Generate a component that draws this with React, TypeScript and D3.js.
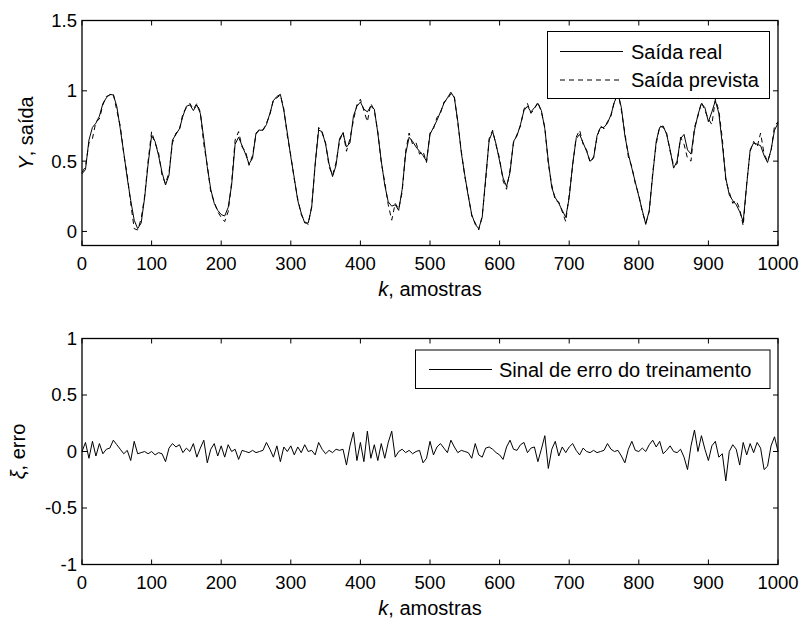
import React from "react";
import * as d3 from "d3";

// ---------- data ----------
const sampleStep = 5; // samples k = 0, 5, 10, ..., 1000

const realOutput = [
  0.41, 0.44, 0.65, 0.74, 0.77, 0.82, 0.91, 0.95, 0.975, 0.97,
  0.89, 0.73, 0.56, 0.38, 0.22, 0.08, 0.02, 0.06, 0.24, 0.48,
  0.68, 0.64, 0.54, 0.42, 0.33, 0.40, 0.65, 0.69, 0.73, 0.82,
  0.89, 0.90, 0.86, 0.90, 0.84, 0.66, 0.46, 0.30, 0.20, 0.15,
  0.12, 0.11, 0.17, 0.33, 0.62, 0.67, 0.61, 0.55, 0.48, 0.52,
  0.70, 0.72, 0.72, 0.76, 0.84, 0.93, 0.96, 0.975, 0.86, 0.70,
  0.53, 0.38, 0.22, 0.13, 0.06, 0.06, 0.17, 0.48, 0.72, 0.71,
  0.62, 0.48, 0.39, 0.47, 0.66, 0.70, 0.60, 0.63, 0.82, 0.89,
  0.92, 0.87, 0.85, 0.89, 0.87, 0.70, 0.50, 0.33, 0.21, 0.18,
  0.19, 0.15, 0.30, 0.55, 0.67, 0.64, 0.60, 0.57, 0.54, 0.50,
  0.69, 0.74, 0.79, 0.85, 0.91, 0.95, 0.99, 0.95, 0.78, 0.56,
  0.40, 0.25, 0.12, 0.05, 0.02, 0.10, 0.38, 0.65, 0.71, 0.62,
  0.50, 0.38, 0.32, 0.42, 0.64, 0.68, 0.76, 0.86, 0.89, 0.85,
  0.88, 0.91, 0.86, 0.73, 0.50, 0.31, 0.24, 0.20, 0.15, 0.10,
  0.24, 0.48, 0.66, 0.69, 0.63, 0.57, 0.50, 0.52, 0.68, 0.74,
  0.74, 0.77, 0.83, 0.92, 0.98, 0.88, 0.68, 0.55, 0.45, 0.35,
  0.25, 0.15, 0.05, 0.15, 0.40, 0.64, 0.74, 0.75, 0.69, 0.58,
  0.45, 0.50, 0.66, 0.69, 0.58, 0.55, 0.72, 0.83, 0.91, 0.88,
  0.78, 0.85, 0.93, 0.84, 0.62, 0.38, 0.26, 0.22, 0.19, 0.14,
  0.07, 0.33, 0.58, 0.63, 0.62, 0.61, 0.54, 0.49, 0.58, 0.72,
  0.77,
];

const predictedOutput = [
  0.42, 0.46, 0.63, 0.66, 0.78, 0.80, 0.90, 0.96, 0.97, 0.98,
  0.86, 0.75, 0.55, 0.40, 0.20, 0.02, 0.01, 0.09, 0.25, 0.50,
  0.71, 0.63, 0.56, 0.40, 0.34, 0.42, 0.63, 0.70, 0.72, 0.84,
  0.88, 0.91, 0.87, 0.91, 0.85, 0.62, 0.47, 0.28, 0.21, 0.14,
  0.10, 0.07, 0.14, 0.35, 0.65, 0.71, 0.60, 0.57, 0.47, 0.54,
  0.69, 0.73, 0.72, 0.77, 0.83, 0.94, 0.95, 0.97, 0.87, 0.68,
  0.54, 0.37, 0.23, 0.12, 0.07, 0.05, 0.18, 0.47, 0.74, 0.70,
  0.63, 0.46, 0.40, 0.49, 0.64, 0.71, 0.57, 0.66, 0.79, 0.90,
  0.94, 0.86, 0.78, 0.91, 0.86, 0.71, 0.49, 0.35, 0.19, 0.08,
  0.20, 0.16, 0.28, 0.57, 0.70, 0.62, 0.63, 0.55, 0.57, 0.49,
  0.70, 0.73, 0.81, 0.84, 0.92, 0.94, 0.98, 0.96, 0.77, 0.57,
  0.39, 0.26, 0.11, 0.06, 0.01, 0.11, 0.36, 0.66, 0.72, 0.61,
  0.52, 0.36, 0.30, 0.44, 0.63, 0.69, 0.75, 0.87, 0.91, 0.84,
  0.87, 0.92, 0.85, 0.74, 0.48, 0.33, 0.22, 0.21, 0.14, 0.07,
  0.26, 0.47, 0.67, 0.72, 0.62, 0.58, 0.49, 0.53, 0.67, 0.75,
  0.73, 0.78, 0.82, 0.93, 1.00, 0.86, 0.70, 0.53, 0.46, 0.34,
  0.26, 0.14, 0.06, 0.14, 0.42, 0.62, 0.75, 0.74, 0.70, 0.57,
  0.47, 0.48, 0.67, 0.62, 0.52, 0.50, 0.74, 0.82, 0.92, 0.86,
  0.80, 0.76, 0.94, 0.86, 0.66, 0.36, 0.28, 0.20, 0.22, 0.16,
  0.04, 0.34, 0.57, 0.64, 0.60, 0.70, 0.55, 0.50, 0.57, 0.75,
  0.78,
];

const trainingError = [
  0.00, 0.08, -0.06, 0.09, -0.04, 0.07, -0.02, 0.02, 0.03, 0.10,
  0.06, 0.02, -0.02, 0.01, -0.08, 0.09, -0.02, -0.01, 0.00, -0.02,
  0.00, -0.03, -0.01, -0.02, -0.09, 0.03, 0.07, 0.04, 0.06, -0.01,
  0.03, 0.00, 0.07, -0.05, 0.03, 0.10, -0.10, 0.02, 0.07, -0.04,
  0.05, -0.05, 0.06, 0.00, 0.02, -0.07, 0.01, 0.00, -0.01, 0.01,
  -0.01, 0.00, 0.01, 0.08, 0.02, -0.05, 0.05, -0.09, 0.04, 0.00,
  0.05, -0.03, 0.04, -0.01, 0.06, 0.00, 0.01, -0.03, 0.08, 0.02,
  -0.02, 0.01, -0.01, 0.02, 0.01, 0.02, -0.12, 0.05, 0.17, -0.08,
  0.08, -0.09, 0.18, -0.06, 0.06, -0.08, 0.07, -0.06, 0.08, 0.18,
  -0.05, 0.00, 0.02, -0.01, 0.01, -0.02, 0.00, 0.01, -0.10, -0.06,
  0.09, -0.03, 0.04, 0.07, 0.03, -0.01, 0.10, 0.04, -0.01, 0.01,
  0.00, -0.01, -0.06, 0.07, -0.03, -0.05, 0.03, 0.04, 0.02, -0.01,
  -0.03, -0.07, 0.04, 0.10, 0.02, 0.01, 0.06, 0.08, -0.01, 0.03,
  0.04, -0.09, 0.02, 0.14, -0.15, 0.02, 0.09, -0.04, 0.04, -0.01,
  0.04, 0.07, 0.01, -0.03, 0.03, 0.00, -0.01, 0.01, -0.01, 0.00,
  0.01, 0.07, 0.02, 0.00, 0.01, -0.04, -0.10, 0.02, 0.09, 0.01,
  0.00, 0.03, 0.00, 0.06, 0.10, 0.04, 0.09, -0.02, 0.01, 0.05,
  0.00, -0.01, 0.02, -0.05, -0.16, 0.05, 0.19, 0.00, 0.14, 0.02,
  -0.08, 0.05, 0.09, -0.05, -0.02, -0.26, 0.00, 0.06, 0.02, -0.12,
  0.08, -0.03, 0.07, -0.01, 0.08, 0.03, -0.16, -0.13, 0.05, 0.13,
  0.00,
];

const xTicks = [0, 100, 200, 300, 400, 500, 600, 700, 800, 900, 1000];
const yTicksTop = [0, 0.5, 1, 1.5];
const yTickLabelsTop = ["0", "0.5", "1", "1.5"];
const yTicksBottom = [-1, -0.5, 0, 0.5, 1];
const yTickLabelsBottom = ["-1", "-0.5", "0", "0.5", "1"];
const legendTop = ["Saída real", "Saída prevista"];
const legendBottom = ["Sinal de erro do treinamento"];

// ---------- layout ----------
const W = 803;
const H = 620;
const left = 82;
const right = 778;
const top1 = 20.5;
const bottom1 = 245.5;
const top2 = 338.5;
const bottom2 = 564.5;
const FONT = "'Liberation Sans', Arial, Helvetica, sans-serif";
const TICK = 5;

const x = d3.scaleLinear().domain([0, 1000]).range([left, right]);
const yTop = d3.scaleLinear().domain([-0.1, 1.5]).range([bottom1, top1]);
const yBot = d3.scaleLinear().domain([-1, 1]).range([bottom2, top2]);

function Axes({ y, top, bottom, yTicks, yLabels }: any) {
  return (
    <g>
      {xTicks.map((t) => (
        <g key={"x" + t}>
          <line x1={x(t)} x2={x(t)} y1={bottom} y2={bottom - TICK} stroke="#000" strokeWidth={1} />
          <line x1={x(t)} x2={x(t)} y1={top} y2={top + TICK} stroke="#000" strokeWidth={1} />
          <text
            x={x(t)}
            y={bottom + 24.5}
            textAnchor="middle"
            fontSize={18.5}
            fontFamily={FONT}
            fill="#000"
          >
            {t}
          </text>
        </g>
      ))}
      {yTicks.map((t: number, i: number) => (
        <g key={"y" + t}>
          <line x1={left} x2={left + TICK} y1={y(t)} y2={y(t)} stroke="#000" strokeWidth={1} />
          <line x1={right} x2={right - TICK} y1={y(t)} y2={y(t)} stroke="#000" strokeWidth={1} />
          <text
            x={77}
            y={y(t)}
            dy="0.35em"
            textAnchor="end"
            fontSize={18.5}
            fontFamily={FONT}
            fill="#000"
          >
            {yLabels[i]}
          </text>
        </g>
      ))}
      <rect
        x={left}
        y={top}
        width={right - left}
        height={bottom - top}
        fill="none"
        stroke="#000"
        strokeWidth={1.3}
      />
      <text
        x={(left + right) / 2}
        y={bottom + 50}
        textAnchor="middle"
        fontSize={20}
        fontFamily={FONT}
        fill="#000"
      >
        <tspan fontStyle="italic">k</tspan>, amostras
      </text>
    </g>
  );
}

export default function App() {
  const lineTop = d3
    .line<number>()
    .x((_, i) => x(i * sampleStep))
    .y((d) => yTop(d));
  const lineBot = d3
    .line<number>()
    .x((_, i) => x(i * sampleStep))
    .y((d) => yBot(d));

  return (
    <svg
      width={W}
      height={H}
      style={{ position: "absolute", left: 0, top: 0, background: "#fff" }}
    >
      <rect x={0} y={0} width={W} height={H} fill="#fff" />

      {/* Top panel */}
      <path d={lineTop(realOutput) || ""} fill="none" stroke="#000" strokeWidth={1} />
      <path
        d={lineTop(predictedOutput) || ""}
        fill="none"
        stroke="#000"
        strokeWidth={1}
        strokeDasharray="5,4"
      />
      <Axes y={yTop} top={top1} bottom={bottom1} yTicks={yTicksTop} yLabels={yTickLabelsTop} />
      <text
        transform={`translate(33,${(top1 + bottom1) / 2}) rotate(-90)`}
        textAnchor="middle"
        fontSize={20}
        fontFamily={FONT}
        fill="#000"
      >
        <tspan fontStyle="italic">Y</tspan>, saída
      </text>

      {/* Top legend */}
      <g>
        <rect x={547.5} y={31.5} width={222} height={67} fill="#fff" stroke="#000" strokeWidth={1} />
        <line x1={560} x2={623} y1={51.5} y2={51.5} stroke="#000" strokeWidth={1} />
        <line x1={560} x2={623} y1={80} y2={80} stroke="#000" strokeWidth={1} strokeDasharray="5,4" />
        <text x={631} y={51.5} dy="0.35em" fontSize={20} fontFamily={FONT} fill="#000">
          {legendTop[0]}
        </text>
        <text x={631} y={80} dy="0.35em" fontSize={20} fontFamily={FONT} fill="#000">
          {legendTop[1]}
        </text>
      </g>

      {/* Bottom panel */}
      <path d={lineBot(trainingError) || ""} fill="none" stroke="#000" strokeWidth={1} />
      <Axes y={yBot} top={top2} bottom={bottom2} yTicks={yTicksBottom} yLabels={yTickLabelsBottom} />
      <text
        transform={`translate(25,${(top2 + bottom2) / 2}) rotate(-90)`}
        textAnchor="middle"
        fontSize={20}
        fontFamily={FONT}
        fill="#000"
      >
        <tspan fontStyle="italic">ξ</tspan>, erro
      </text>

      {/* Bottom legend */}
      <g>
        <rect x={415.5} y={350} width={354.5} height={38.5} fill="#fff" stroke="#000" strokeWidth={1} />
        <line x1={429} x2={492} y1={369.5} y2={369.5} stroke="#000" strokeWidth={1} />
        <text x={499} y={369.5} dy="0.35em" fontSize={20} fontFamily={FONT} fill="#000">
          {legendBottom[0]}
        </text>
      </g>
    </svg>
  );
}
